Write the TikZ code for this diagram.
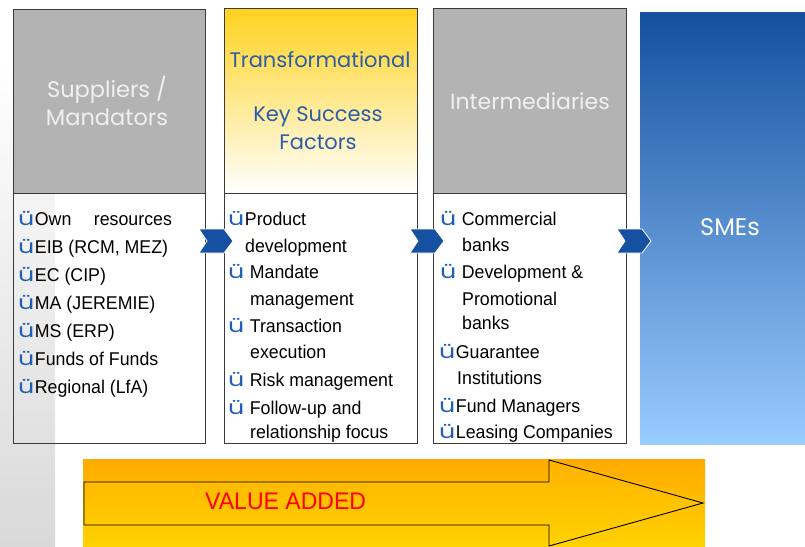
\documentclass[tikz,border=0pt]{standalone}
\usepackage{fontspec}
\setmainfont{Liberation Sans}[FakeStretch=0.96]
\newfontfamily\hdr{Poppins}
\definecolor{hdrgray}{HTML}{B3B3B3}
\definecolor{boxline}{HTML}{3A3A3A}
\definecolor{hblue}{HTML}{2B5DA8}
\definecolor{chk}{HTML}{1F5FB5}
\definecolor{smetop}{HTML}{15509E}
\definecolor{smebot}{HTML}{99CCFF}
\definecolor{gold}{HTML}{FFD21F}
\definecolor{chev}{HTML}{1650A0}
\definecolor{orgtop}{HTML}{FFAA00}
\definecolor{orgbot}{HTML}{FFD200}
\definecolor{band}{HTML}{D9D9D9}
\newcommand{\chk}{{\color{chk}\hdr\fontsize{19.5}{22}\selectfont\scalebox{1.3}[1]{ü}\kern0.5pt}}
\begin{document}
\begin{tikzpicture}[x=1pt,y=-1pt,
  frame/.style={draw=boxline,line width=0.9pt},
  hdrtxt/.style={font=\hdr\fontsize{21}{28}\selectfont,align=center,inner sep=0pt},
  item/.style={anchor=base west,inner sep=0pt,font=\fontsize{18.5}{22}\selectfont},
  chevron/.style={fill=chev,draw=white,line width=0.8pt}]
\useasboundingbox (0,0) rectangle (805,546);
% left gray band
\shade[top color=white,bottom color=band] (0,60) rectangle (55,546);
% box 1
\fill[hdrgray] (13,9) rectangle (205,193);
\draw[frame] (13,9) rectangle (205,443);
\draw[frame] (13,193) -- (205,193);
% box 2
\shade[top color=gold,bottom color=white] (224,8) rectangle (417,193);
\draw[frame] (224,8) rectangle (417,443);
\draw[frame] (224,193) -- (417,193);
% box 3
\fill[hdrgray] (433,8) rectangle (626,193);
\draw[frame] (433,8) rectangle (626,443);
\draw[frame] (433,193) -- (626,193);
% SMEs
\shade[top color=smetop,bottom color=smebot] (640,12) rectangle (805,444);
% headers
\node[hdrtxt,text=white!94!black,font=\hdr\fontsize{22.5}{28}\selectfont] (h1) at (107,101) {Suppliers /\\Mandators};
\node[hdrtxt,text=hblue] (h2a) at (320,60) {Transformational};
\node[hdrtxt,text=hblue] (h2b) at (318,128) {Key Success\\Factors};
\node[hdrtxt,text=white!94!black,font=\hdr\fontsize{22}{28}\selectfont] (h3) at (530,101) {Intermediaries};
\node[hdrtxt,text=white,font=\hdr\fontsize{24}{28}\selectfont] (h4) at (730,227) {SMEs};
% list 1
\node[item] (a1) at (18,225) {\chk\makebox[137pt][s]{Own resources}};
\node[item] (a2) at (18,253) {\chk EIB (RCM, MEZ)};
\node[item] (a3) at (18,281) {\chk EC (CIP)};
\node[item] (a4) at (18,309) {\chk MA (JEREMIE)};
\node[item] (a5) at (18,337) {\chk MS (ERP)};
\node[item] (a6) at (18,365) {\chk Funds of Funds};
\node[item] (a7) at (18,393) {\chk Regional (LfA)};
% list 2
\node[item] (b1) at (228,225) {\chk Product};
\node[item] (b1b) at (245,252) {development};
\node[item] (b2) at (228,278) {\chk\ Mandate};
\node[item] (b2b) at (250,305) {management};
\node[item] (b3) at (228,332) {\chk\ Transaction};
\node[item] (b3b) at (250,358) {execution};
\node[item] (b4) at (228,386) {\chk\ Risk management};
\node[item] (b5) at (228,414) {\chk\ Follow-up and};
\node[item] (b5b) at (250,438) {relationship focus};
% list 3
\node[item] (c1) at (440,225) {\chk\ Commercial};
\node[item] (c1b) at (462,251) {banks};
\node[item] (c2) at (440,278) {\chk\ Development \&};
\node[item] (c2b) at (462,305) {Promotional};
\node[item] (c2c) at (462,329) {banks};
\node[item] (c3) at (439,358) {\chk Guarantee};
\node[item] (c3b) at (457,384) {Institutions};
\node[item] (c4) at (439,412) {\chk Fund Managers};
\node[item] (c5) at (439,438) {\chk Leasing Companies};
% chevrons
\foreach \x in {199,410,617}{
  \draw[chevron] (\x,229) -- ++(25,0) -- ++(9,12) -- ++(-9,12) -- ++(-25,0) -- ++(8,-12) -- cycle;
}
% value added
\shade[top color=orgtop,bottom color=orgbot] (83,459) rectangle (705,546);
\shade[top color=orgtop!80!orgbot,bottom color=orgbot,draw=black,line width=0.9pt]
  (84,482) -- (549,482) -- (549,460) -- (703,503) -- (549,546) -- (549,525) -- (84,525) -- cycle;
\node[anchor=base west,inner sep=0pt,text=red,font=\fontsize{24}{28}\selectfont] (va) at (205,509) {VALUE ADDED};
\end{tikzpicture}
\end{document}
